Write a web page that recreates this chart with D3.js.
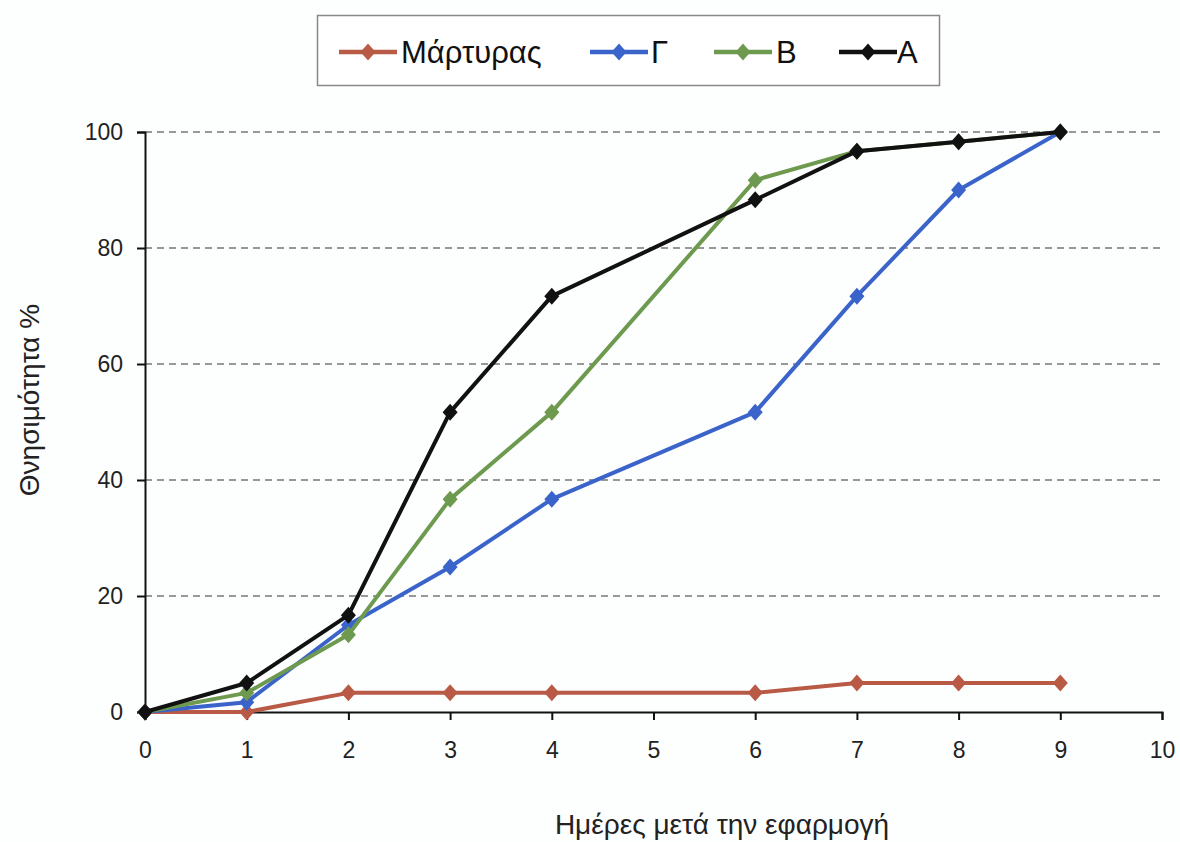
<!DOCTYPE html>
<html>
<head>
<meta charset="utf-8">
<script src="https://cdn.jsdelivr.net/npm/d3@7"></script>
<style>
  html, body { margin: 0; padding: 0; background: #fdfefe; }
  svg { display: block; font-family: "Liberation Sans", Arial, sans-serif; }
</style>
</head>
<body>
<svg id="chart" width="1180" height="842"></svg>
<script>
// ---- data ----
const days = [0, 1, 2, 3, 4, 6, 7, 8, 9];
const seriesNames = ["Μάρτυρας", "Γ", "Β", "Α"];
const valuesMartyras = [0, 0, 3.3, 3.3, 3.3, 3.3, 5, 5, 5];
const valuesG = [0, 1.7, 15, 25, 36.7, 51.7, 71.7, 90, 100];
const valuesB = [0, 3.3, 13.3, 36.7, 51.7, 91.7, 96.7, 98.3, 100];
const valuesA = [0, 5, 16.7, 51.7, 71.7, 88.3, 96.7, 98.3, 100];
const xTicks = [0, 1, 2, 3, 4, 5, 6, 7, 8, 9, 10];
const yTicks = [0, 20, 40, 60, 80, 100];
const xTitle = "Ημέρες μετά την εφαρμογή";
const yTitle = "Θνησιμότητα %";

const colors = ["#b85a45", "#3b64cb", "#6e9a4f", "#111111"];
const allValues = [valuesMartyras, valuesG, valuesB, valuesA];

// ---- layout ----
const svg = d3.select("#chart");
const pLeft = 145, pRight = 1162, pTop = 132, pBottom = 712;
const x = d3.scaleLinear().domain([0, 10]).range([pLeft, pRight]);
const y = d3.scaleLinear().domain([0, 100]).range([pBottom, pTop]);
const FONT = "'Liberation Sans', Arial, sans-serif";

// gridlines
svg.append("g").selectAll("line")
  .data(yTicks.filter(d => d > 0))
  .join("line")
  .attr("x1", pLeft).attr("x2", pRight)
  .attr("y1", d => y(d)).attr("y2", d => y(d))
  .attr("stroke", "#777").attr("stroke-width", 1.4)
  .attr("stroke-dasharray", "7,5");

// axes
const xAxis = d3.axisBottom(x).tickValues(xTicks).tickSize(8).tickPadding(22).tickFormat(d3.format("d"));
const gx = svg.append("g").attr("transform", `translate(0,${pBottom})`).call(xAxis);
gx.attr("font-size", 23).attr("font-family", FONT);
gx.select(".domain").attr("stroke", "#111").attr("stroke-width", 2);
gx.selectAll(".tick line").attr("stroke", "#111").attr("stroke-width", 2);
gx.selectAll("text").attr("font-size", 23).style("font-size", "23px").attr("fill", "#222");

const yAxis = d3.axisLeft(y).tickValues(yTicks).tickSize(8).tickPadding(14);
const gy = svg.append("g").attr("transform", `translate(${pLeft},0)`).call(yAxis);
gy.attr("font-size", 23).attr("font-family", FONT);
gy.select(".domain").attr("stroke", "#111").attr("stroke-width", 2);
gy.selectAll(".tick line").attr("stroke", "#111").attr("stroke-width", 2);
gy.selectAll("text").attr("font-size", 23).style("font-size", "23px").attr("fill", "#222");

// axis titles
svg.append("text").attr("x", 722).attr("y", 834).attr("text-anchor", "middle")
  .attr("font-size", 28).attr("fill", "#222").text(xTitle);
svg.append("text").attr("transform", `translate(39,400) rotate(-90)`)
  .attr("text-anchor", "middle").attr("font-size", 28).attr("fill", "#222").text(yTitle);

// diamond marker
const diamondType = {
  draw(ctx, size) {
    const w = 7.5, h = 8.5;
    ctx.moveTo(0, -h); ctx.lineTo(w, 0); ctx.lineTo(0, h); ctx.lineTo(-w, 0); ctx.closePath();
  }
};
const diamond = d3.symbol().type(diamondType);
const line = d3.line().x(d => x(d[0])).y(d => y(d[1]));
allValues.forEach((vals, i) => {
  const pts = days.map((d, j) => [d, vals[j]]);
  const g = svg.append("g");
  g.append("path").datum(pts).attr("d", line)
    .attr("fill", "none").attr("stroke", colors[i]).attr("stroke-width", 4)
    .attr("stroke-linejoin", "round");
  g.selectAll("path.m").data(pts).join("path").attr("class", "m")
    .attr("d", diamond)
    .attr("transform", d => `translate(${x(d[0])},${y(d[1])})`)
    .attr("fill", colors[i]);
});

// legend
const lg = svg.append("g");
lg.append("rect").attr("x", 317.5).attr("y", 15.5).attr("width", 622).attr("height", 70)
  .attr("fill", "#fff").attr("stroke", "#888").attr("stroke-width", 1.5);
const legendLineX = [339, 590, 714, 839];
const legendTextX = [401, 651, 776, 897];
seriesNames.forEach((name, i) => {
  const lx = legendLineX[i], ly = 52;
  lg.append("line").attr("x1", lx).attr("x2", lx + 58).attr("y1", ly).attr("y2", ly)
    .attr("stroke", colors[i]).attr("stroke-width", 4.5);
  lg.append("path").attr("d", diamond)
    .attr("transform", `translate(${lx + 29},${ly})`).attr("fill", colors[i]);
  lg.append("text").attr("x", legendTextX[i]).attr("y", ly + 11).attr("font-size", 31)
    .attr("fill", "#111").text(name);
});
</script>
</body>
</html>
